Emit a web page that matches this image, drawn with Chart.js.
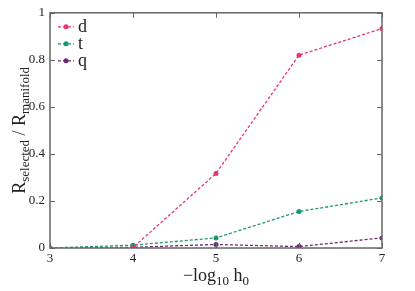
<!DOCTYPE html>
<html>
<head>
<meta charset="utf-8">
<script src="https://cdn.jsdelivr.net/npm/chart.js@4/dist/chart.umd.min.js"></script>
<style>
  html, body { margin:0; padding:0; background:#fff; }
  #wrap { width:415px; height:291px; position:relative; }
</style>
</head>
<body>
<div id="wrap"><canvas id="c"></canvas></div>
<script>
/* data */
const hValues  = [3, 4, 5, 6, 7];
const seriesD  = [0.000, 0.002, 0.317, 0.820, 0.933];
const seriesT  = [0.000, 0.012, 0.043, 0.155, 0.213];
const seriesQ  = [0.000, 0.003, 0.015, 0.006, 0.043];
const yTicks   = [0, 0.2, 0.4, 0.6, 0.8, 1];

const SERIF = '"Liberation Serif", "DejaVu Serif", serif';
const FRAME = '#666';

function pts(ys) { return hValues.map((x, i) => ({ x, y: ys[i] })); }

function ds(label, ys, color) {
  return {
    label, data: pts(ys),
    borderColor: color, backgroundColor: color,
    borderWidth: 1.3, borderDash: [3, 2],
    pointRadius: 2.5, pointBorderWidth: 0,
    tension: 0,
  };
}

/* inward ticks on all four sides + frame */
const frameTicks = {
  id: 'frameTicks',
  afterDatasetsDraw(chart) {
    const { ctx, chartArea: a, scales: { x, y } } = chart;
    ctx.save();
    ctx.strokeStyle = FRAME;
    ctx.lineWidth = 1;
    const L = 5;
    hValues.forEach(v => {
      const px = Math.round(x.getPixelForValue(v)) + 0.5;
      ctx.beginPath();
      ctx.moveTo(px, a.bottom); ctx.lineTo(px, a.bottom - L);
      ctx.moveTo(px, a.top);    ctx.lineTo(px, a.top + L);
      ctx.stroke();
    });
    yTicks.forEach(v => {
      const py = Math.round(y.getPixelForValue(v)) + 0.5;
      ctx.beginPath();
      ctx.moveTo(a.left, py);  ctx.lineTo(a.left + L, py);
      ctx.moveTo(a.right, py); ctx.lineTo(a.right - L, py);
      ctx.stroke();
    });
    ctx.lineWidth = 1.5;
    ctx.strokeRect(a.left, a.top, a.right - a.left, a.bottom - a.top);
    ctx.restore();
  }
};

/* axis titles with subscripts */
function subText(ctx, parts, x, y, big, small) {
  // parts: [text, isSub]
  let w = 0;
  parts.forEach(([t, s]) => { ctx.font = (s ? small : big) + 'px ' + SERIF; w += ctx.measureText(t).width; });
  let cx = x - w / 2;
  parts.forEach(([t, s]) => {
    ctx.font = (s ? small : big) + 'px ' + SERIF;
    ctx.fillText(t, cx, s ? y + 4 : y);
    cx += ctx.measureText(t).width;
  });
}

const axisTitles = {
  id: 'axisTitles',
  afterDraw(chart) {
    const { ctx, chartArea: a } = chart;
    ctx.save();
    ctx.fillStyle = '#222';
    ctx.textBaseline = 'alphabetic';
    ctx.textAlign = 'left';
    subText(ctx, [['\u2212log', false], ['10', true], [' h', false], ['0', true]],
            (a.left + a.right) / 2, 281, 18, 13);
    ctx.translate(25, (a.top + a.bottom) / 2);
    ctx.rotate(-Math.PI / 2);
    subText(ctx, [['R', false], ['selected', true], [' / R', false], ['manifold', true]], 0, 0, 18, 13);
    ctx.restore();
  }
};

/* legend inside the plot, top-left */
const innerLegend = {
  id: 'innerLegend',
  afterDraw(chart) {
    const { ctx, chartArea: a } = chart;
    ctx.save();
    chart.data.datasets.forEach((d, i) => {
      const y = a.top + 14 + i * 17;
      const x0 = a.left + 8;
      ctx.strokeStyle = d.borderColor;
      ctx.lineWidth = 1.3;
      ctx.setLineDash([3, 2]);
      ctx.beginPath(); ctx.moveTo(x0, y); ctx.lineTo(x0 + 16, y); ctx.stroke();
      ctx.setLineDash([]);
      ctx.fillStyle = d.borderColor;
      ctx.beginPath(); ctx.arc(x0 + 8, y, 2.5, 0, Math.PI * 2); ctx.fill();
      ctx.fillStyle = '#222';
      ctx.font = '18px ' + SERIF;
      ctx.textBaseline = 'middle';
      ctx.fillText(d.label, x0 + 20, y);
    });
    ctx.restore();
  }
};

new Chart(document.getElementById('c').getContext('2d'), {
  type: 'line',
  data: {
    datasets: [
      ds('d', seriesD, '#e8386a'),
      ds('t', seriesT, '#1a9a6c'),
      ds('q', seriesQ, '#6e2b70'),
    ],
  },
  options: {
    responsive: true, maintainAspectRatio: false, animation: false,
    layout: { padding: { top: 8, right: 33, left: 0, bottom: 0 } },
    plugins: { legend: { display: false }, tooltip: { enabled: false } },
    scales: {
      x: {
        type: 'linear', min: 3, max: 7,
        afterBuildTicks: s => { s.ticks = hValues.map(v => ({ value: v })); },
        afterFit: s => { s.height = 43; },
        grid: { display: false, drawTicks: false },
        border: { display: false },
        ticks: { color: '#222', padding: 3, font: { family: SERIF, size: 13 } },
      },
      y: {
        min: 0, max: 1,
        afterBuildTicks: s => { s.ticks = yTicks.map(v => ({ value: v })); },
        afterFit: s => { s.width = 50; },
        grid: { display: false, drawTicks: false },
        border: { display: false },
        ticks: { color: '#222', padding: 5, font: { family: SERIF, size: 13 },
                 callback: v => String(+v.toFixed(1)) },
      },
    },
  },
  plugins: [frameTicks, axisTitles, innerLegend],
});
</script>
</body>
</html>
